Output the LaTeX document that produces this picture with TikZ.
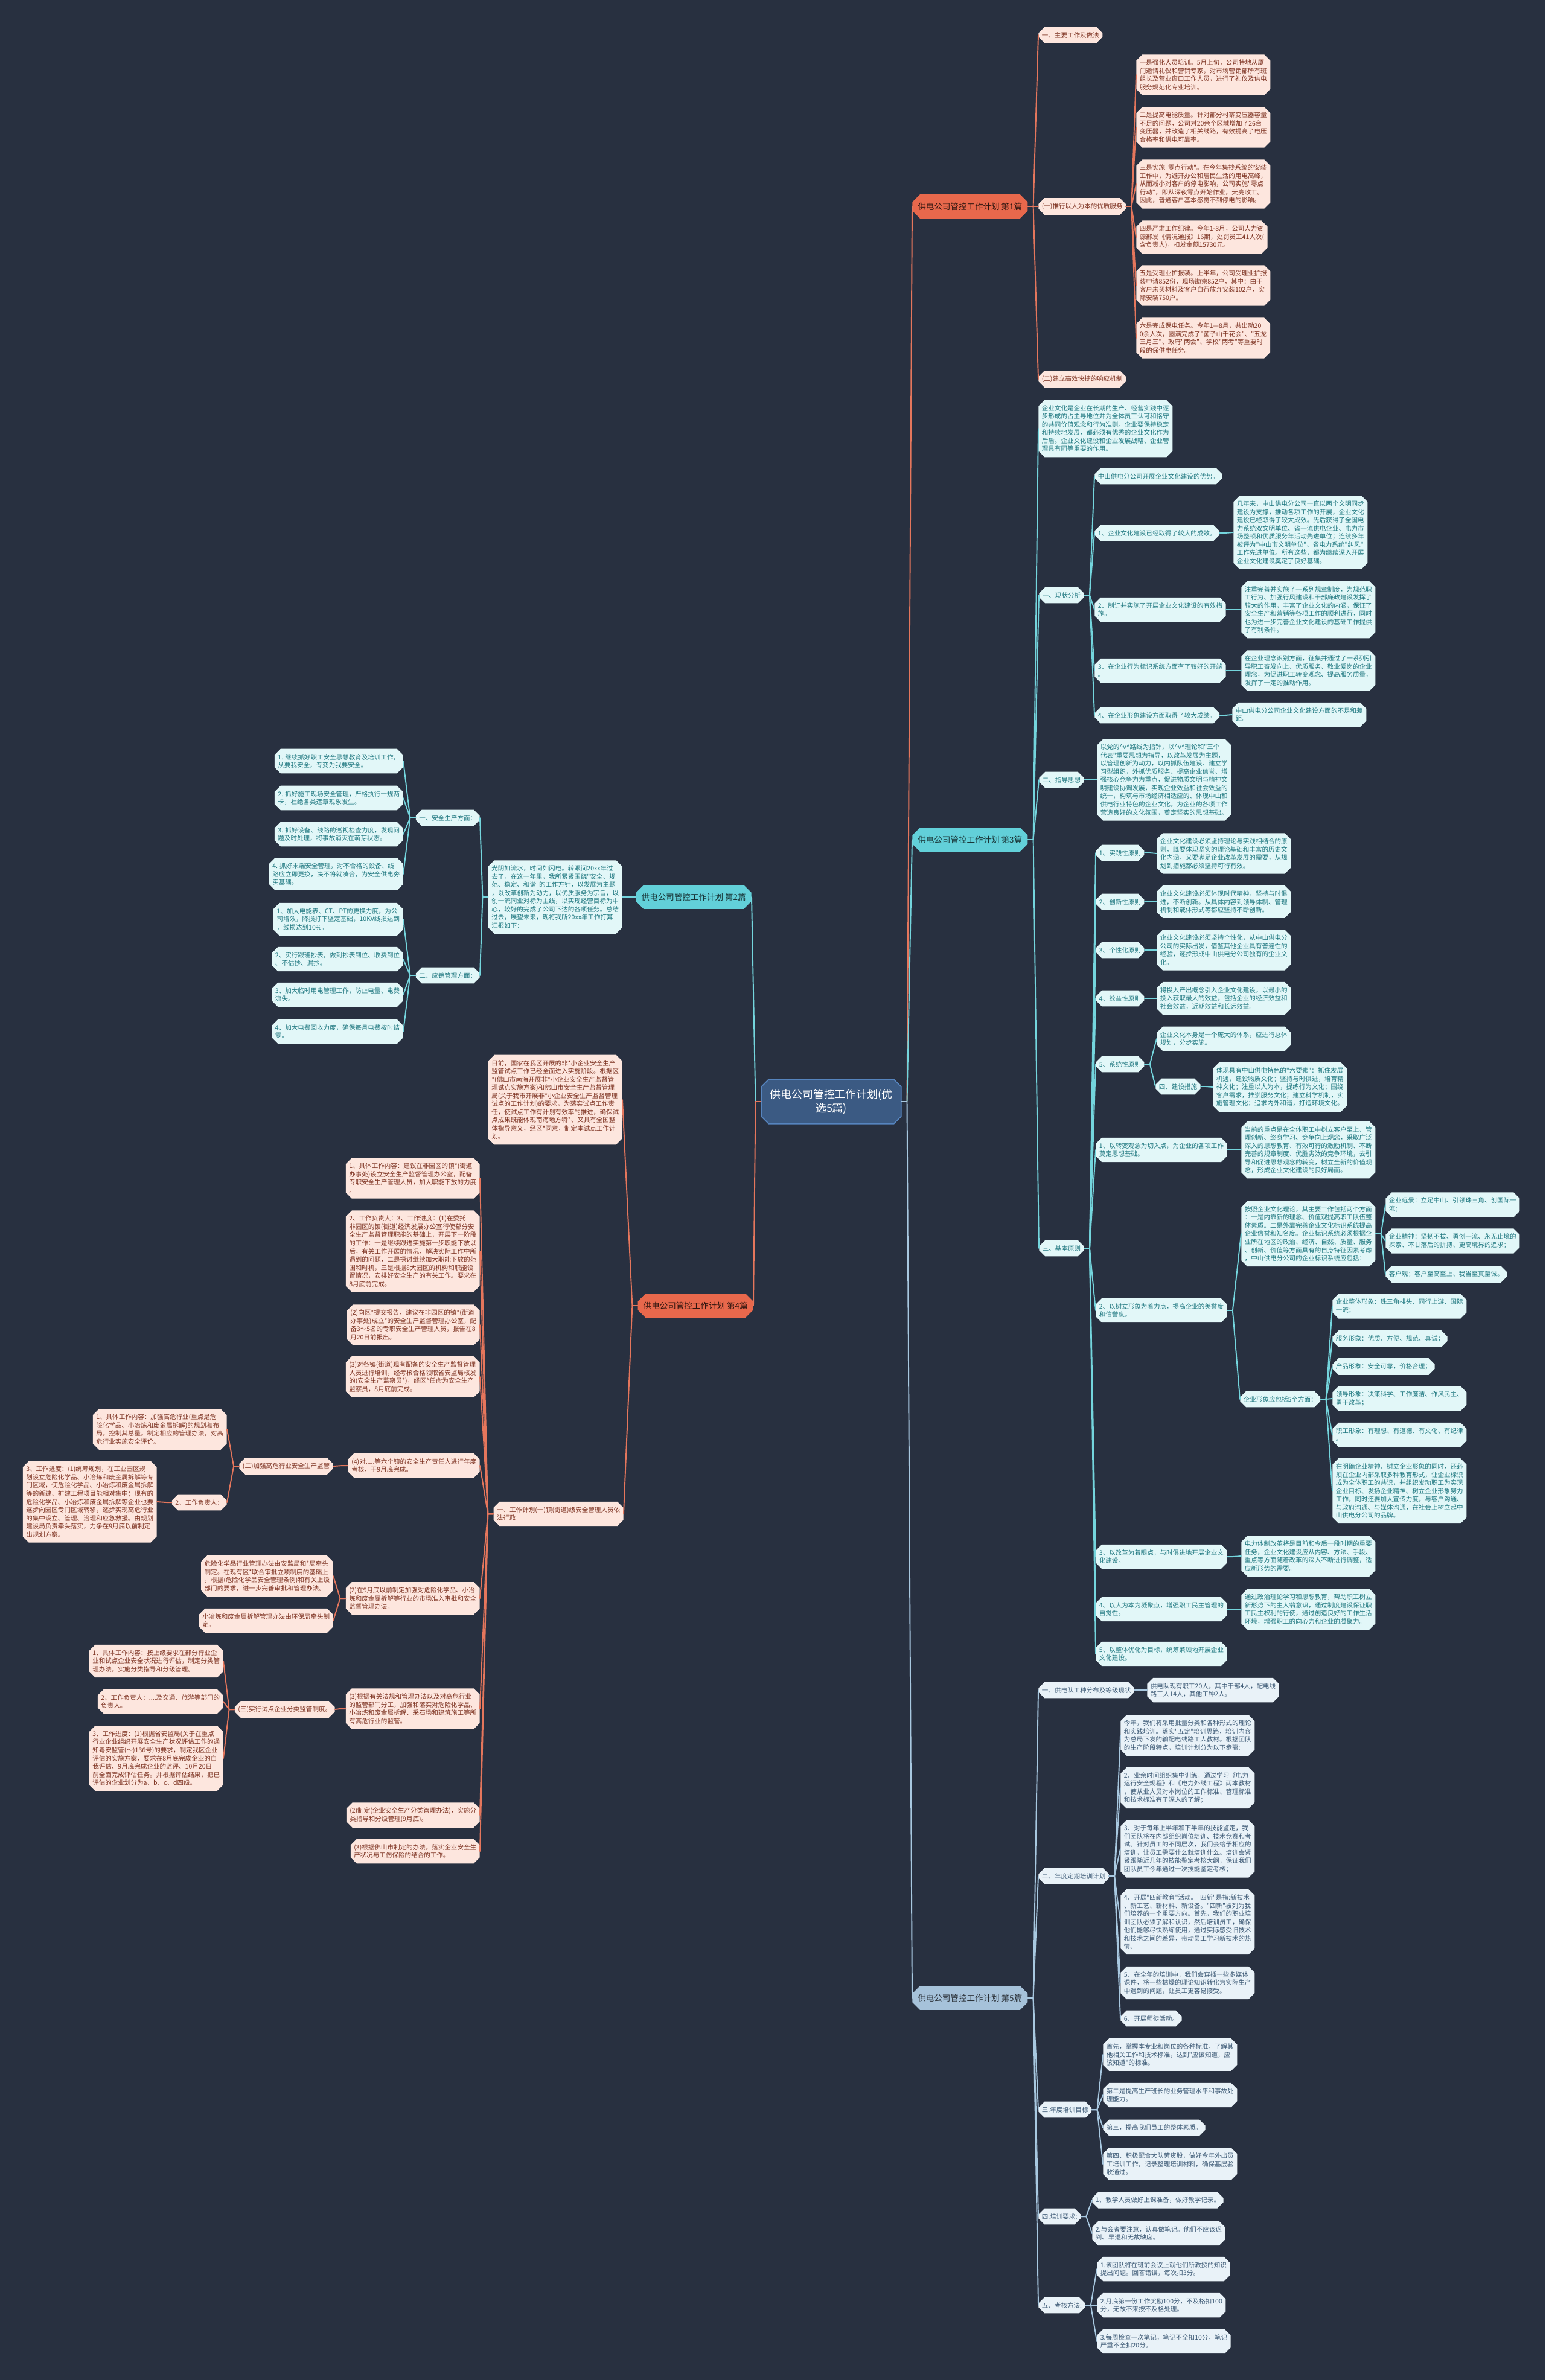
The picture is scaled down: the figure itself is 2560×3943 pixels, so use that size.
\documentclass[tikz,border=0pt]{standalone}
\usepackage{fontspec}
\newfontfamily\cjk{Noto Sans CJK SC}
\usepackage{tikz}
\usetikzlibrary{shapes.misc}
\definecolor{night}{HTML}{283040}
\definecolor{coral}{HTML}{E8684C}
\definecolor{coralpale}{HTML}{FDE6DE}
\definecolor{coraltext}{HTML}{7E3322}
\definecolor{coralline}{HTML}{E5765C}
\definecolor{aqua}{HTML}{62D0D9}
\definecolor{aquapale}{HTML}{E2F7F8}
\definecolor{aquatext}{HTML}{1F7880}
\definecolor{aqualine}{HTML}{74D5DD}
\definecolor{steel}{HTML}{A6C2DA}
\definecolor{steelpale}{HTML}{E9F2F8}
\definecolor{steeltext}{HTML}{3C5975}
\definecolor{steelline}{HTML}{A8C8E0}
\definecolor{hub}{HTML}{3B5A83}
\definecolor{hubrim}{HTML}{5684BE}
\tikzset{
  leaf/.style={chamfered rectangle, chamfered rectangle xsep=0.8mm, chamfered rectangle ysep=1.2mm,
               inner xsep=0.3mm, inner ysep=0.5mm, align=left, font=\cjk\fontsize{6}{7.7}\selectfont},
  cleaf/.style={leaf, fill=coralpale, text=coraltext},
  aleaf/.style={leaf, fill=aquapale, text=aquatext},
  sleaf/.style={leaf, fill=steelpale, text=steeltext},
  root/.style={chamfered rectangle, chamfered rectangle xsep=1mm, chamfered rectangle ysep=1.5mm,
               inner xsep=0.8mm, inner ysep=1.2mm, font=\cjk\fontsize{7.7}{9}\selectfont},
  croot/.style={root, fill=coral, text=black!80!coral},
  aroot/.style={root, fill=aqua, text=black!75!aqua},
  sroot/.style={root, fill=steel, text=black!75!steel},
  hubbox/.style={chamfered rectangle, chamfered rectangle sep=1.2mm, fill=hub, draw=hubrim, line width=1pt,
                 text=white, align=center, inner xsep=1.6mm, inner ysep=2mm, font=\cjk\fontsize{10.2}{13}\selectfont},
  lk/.style={line width=1.1pt, line cap=round, line join=round},
  cl/.style={lk, draw=coralline, to path={(\tikztostart) -- ++(9,0) -- (\tikztotarget)}},
  cll/.style={lk, draw=coralline, to path={(\tikztostart) -- ++(-9,0) -- (\tikztotarget)}},
  al/.style={lk, draw=aqualine, to path={(\tikztostart) -- ++(9,0) -- (\tikztotarget)}},
  all/.style={lk, draw=aqualine, to path={(\tikztostart) -- ++(-9,0) -- (\tikztotarget)}},
  sl/.style={lk, draw=steelline, to path={(\tikztostart) -- ++(9,0) -- (\tikztotarget)}}
}
\begin{document}
\begin{tikzpicture}[x=0.2mm, y=-0.2mm]
  \fill[night] (0,0) rectangle (2560,3943);
  \useasboundingbox (0,0) rectangle (2560,3943);

  \node[hubbox] (hub) at (1377,1825) {供电公司管控工作计划(优\\选5篇)};

  % 第1篇
  \node[croot, anchor=west] (p1) at (1511,342) {供电公司管控工作计划 第1篇};
  \node[cleaf, anchor=west] (p1main) at (1720,58) {一、主要工作及做法};
  \node[cleaf, anchor=west] (p1serve) at (1720,342) {(一)推行以人为本的优质服务};
  \node[cleaf, anchor=west] (p1resp) at (1720,628) {(二)建立高效快捷的响应机制};
  \node[cleaf, anchor=west] (p1s1) at (1882,124) {一是强化人员培训。5月上旬，公司特地从厦\\门邀请礼仪和营销专家，对市场营销部所有班\\组长及营业窗口工作人员，进行了礼仪及供电\\服务规范化专业培训。};
  \node[cleaf, anchor=west] (p1s2) at (1882,211) {二是提高电能质量。针对部分村寨变压器容量\\不足的问题，公司对20余个区域增加了26台\\变压器，并改造了相关线路，有效提高了电压\\合格率和供电可靠率。};
  \node[cleaf, anchor=west] (p1s3) at (1882,305) {三是实施"零点行动"。在今年集抄系统的安装\\工作中，为避开办公和居民生活的用电高峰，\\从而减小对客户的停电影响，公司实施"零点\\行动"，即从深夜零点开始作业，天亮收工。\\因此，普通客户基本感觉不到停电的影响。};
  \node[cleaf, anchor=west] (p1s4) at (1882,393) {四是严肃工作纪律。今年1-8月，公司人力资\\源部发《情况通报》16期，处罚员工41人次(\\含负责人)，扣发金额15730元。};
  \node[cleaf, anchor=west] (p1s5) at (1882,473) {五是受理业扩报装。上半年，公司受理业扩报\\装申请852份，现场勘察852户，其中：由于\\客户未买材料及客户自行放弃安装102户，实\\际安装750户。};
  \node[cleaf, anchor=west] (p1s6) at (1882,560) {六是完成保电任务。今年1—8月，共出动20\\0余人次，圆满完成了"菌子山千花会"、"五龙\\三月三"、政府"两会"、学校"两考"等重要时\\段的保供电任务。};

  % 第3篇
  \node[aroot, anchor=west] (p3) at (1511,1391) {供电公司管控工作计划 第3篇};
  \node[aleaf, anchor=west] (p3intro) at (1720,710) {企业文化是企业在长期的生产、经营实践中逐\\步形成的占主导地位并为全体员工认可和恪守\\的共同价值观念和行为准则。企业要保持稳定\\和持续地发展，都必须有优秀的企业文化作为\\后盾。企业文化建设和企业发展战略、企业管\\理具有同等重要的作用。};
  \node[aleaf, anchor=west] (now) at (1721,986) {一、现状分析};
  \node[aleaf, anchor=west] (now0) at (1813,789) {中山供电分公司开展企业文化建设的优势。};
  \node[aleaf, anchor=west] (now1) at (1813,883) {1、企业文化建设已经取得了较大的成效。};
  \node[aleaf, anchor=west] (now1t) at (2043,882) {几年来，中山供电分公司一直以两个文明同步\\建设为支撑，推动各项工作的开展，企业文化\\建设已经取得了较大成效。先后获得了全国电\\力系统双文明单位、省一流供电企业、电力市\\场整顿和优质服务年活动先进单位；连续多年\\被评为"中山市文明单位"、省电力系统"纠风"\\工作先进单位。所有这些，都为继续深入开展\\企业文化建设奠定了良好基础。};
  \node[aleaf, anchor=west] (now2) at (1813,1010) {2、制订并实施了开展企业文化建设的有效措\\施。};
  \node[aleaf, anchor=west] (now2t) at (2056,1010) {注重完善并实施了一系列规章制度，为规范职\\工行为、加强行风建设和干部廉政建设发挥了\\较大的作用，丰富了企业文化的内涵，保证了\\安全生产和营销等各项工作的顺利进行，同时\\也为进一步完善企业文化建设的基础工作提供\\了有利条件。};
  \node[aleaf, anchor=west] (now3) at (1813,1111) {3、在企业行为标识系统方面有了较好的开端\\。};
  \node[aleaf, anchor=west] (now3t) at (2056,1111) {在企业理念识别方面，征集并通过了一系列引\\导职工奋发向上、优质服务、敬业爱岗的企业\\理念，为促进职工转变观念、提高服务质量，\\发挥了一定的推动作用。};
  \node[aleaf, anchor=west] (now4) at (1813,1185) {4、在企业形象建设方面取得了较大成绩。};
  \node[aleaf, anchor=west] (now4t) at (2041,1184) {中山供电分公司企业文化建设方面的不足和差\\距。};
  \node[aleaf, anchor=west] (idea) at (1721,1292) {二、指导思想};
  \node[aleaf, anchor=west] (ideat) at (1817,1292) {以党的\textasciicircum v\textasciicircum 路线为指针，以\textasciicircum v\textasciicircum 理论和"三个\\代表"重要思想为指导，以改革发展为主题，\\以管理创新为动力，以内抓队伍建设、建立学\\习型组织，外抓优质服务、提高企业信誉、增\\强核心竞争力为重点，促进物质文明与精神文\\明建设协调发展，实现企业效益和社会效益的\\统一，构筑与市场经济相适应的、体现中山和\\供电行业特色的企业文化，为企业的各项工作\\营造良好的文化氛围，奠定坚实的思想基础。};
  \node[aleaf, anchor=west] (rule) at (1721,2068) {三、基本原则};
  \node[aleaf, anchor=west] (rule1) at (1815,1413) {1、实践性原则};
  \node[aleaf, anchor=west] (rule1t) at (1916,1414) {企业文化建设必须坚持理论与实践相结合的原\\则，既要体现坚实的理论基础和丰富的历史文\\化内涵，又要满足企业改革发展的需要，从规\\划到措施都必须坚持可行有效。};
  \node[aleaf, anchor=west] (rule2) at (1815,1494) {2、创新性原则};
  \node[aleaf, anchor=west] (rule2t) at (1916,1494) {企业文化建设必须体现时代精神，坚持与时俱\\进，不断创新。从具体内容到领导体制、管理\\机制和载体形式等都应坚持不断创新。};
  \node[aleaf, anchor=west] (rule3) at (1815,1574) {3、个性化原则};
  \node[aleaf, anchor=west] (rule3t) at (1916,1574) {企业文化建设必须坚持个性化，从中山供电分\\公司的实际出发，借鉴其他企业具有普遍性的\\经验，逐步形成中山供电分公司独有的企业文\\化。};
  \node[aleaf, anchor=west] (rule4) at (1815,1654) {4、效益性原则};
  \node[aleaf, anchor=west] (rule4t) at (1916,1654) {将投入产出概念引入企业文化建设，以最小的\\投入获取最大的效益，包括企业的经济效益和\\社会效益，近期效益和长远效益。};
  \node[aleaf, anchor=west] (rule5) at (1815,1763) {5、系统性原则};
  \node[aleaf, anchor=west] (rule5t) at (1916,1721) {企业文化本身是一个庞大的体系，应进行总体\\规划，分步实施。};
  \node[aleaf, anchor=west] (build) at (1914,1800) {四、建设措施};
  \node[aleaf, anchor=west] (buildt) at (2009,1801) {体现具有中山供电特色的"六要素"：抓住发展\\机遇，建设物质文化；坚持与时俱进，培育精\\神文化；注重以人为本，提练行为文化；围绕\\客户需求，推崇服务文化；建立科学机制，实\\施管理文化；追求内外和谐，打造环境文化。};
  \node[aleaf, anchor=west] (way1) at (1815,1905) {1、以转变观念为切入点，为企业的各项工作\\奠定思想基础。};
  \node[aleaf, anchor=west] (way1t) at (2056,1905) {当前的重点是在全体职工中树立客户至上、管\\理创新、终身学习、竞争向上观念，采取广泛\\深入的思想教育、有效可行的激励机制、不断\\完善的规章制度、优胜劣汰的竞争环境，去引\\导和促进思想观念的转变，树立全新的价值观\\念，形成企业文化建设的良好局面。};
  \node[aleaf, anchor=west] (way2) at (1815,2171) {2、以树立形象为着力点，提高企业的美誉度\\和信誉度。};
  \node[aleaf, anchor=west] (way2a) at (2056,2044) {按照企业文化理论，其主要工作包括两个方面\\：一是内靠新的理念、价值观提高职工队伍整\\体素质。二是外靠完善企业文化标识系统提高\\企业信誉和知名度。企业标识系统必须根据企\\业所在地区的政治、经济、自然、质量、服务\\、创新、价值等方面具有的自身特征因素考虑\\，中山供电分公司的企业标识系统应包括：};
  \node[aleaf, anchor=west] (way2a1) at (2295,1996) {企业远景：立足中山、引领珠三角、创国际一\\流；};
  \node[aleaf, anchor=west] (way2a2) at (2295,2056) {企业精神：坚韧不拔、勇创一流、永无止境的\\探索、不甘落后的拼搏、更高境界的追求；};
  \node[aleaf, anchor=west] (way2a3) at (2295,2111) {客户观；客户至高至上、我当至真至诚。};
  \node[aleaf, anchor=west] (way2b) at (2054,2318) {企业形象应包括5个方面：};
  \node[aleaf, anchor=west] (look1) at (2207,2164) {企业整体形象：珠三角排头、同行上游、国际\\一流；};
  \node[aleaf, anchor=west] (look2) at (2207,2218) {服务形象：优质、方便、规范、真诚；};
  \node[aleaf, anchor=west] (look3) at (2207,2264) {产品形象：安全可靠，价格合理；};
  \node[aleaf, anchor=west] (look4) at (2207,2317) {领导形象：决策科学、工作廉洁、作风民主、\\勇于改革；};
  \node[aleaf, anchor=west] (look5) at (2207,2377) {职工形象：有理想、有道德、有文化、有纪律\\。};
  \node[aleaf, anchor=west] (look6) at (2207,2470) {在明确企业精神、树立企业形象的同时，还必\\须在企业内部采取多种教育形式，让企业标识\\成为全体职工的共识，并组织发动职工为实现\\企业目标、发扬企业精神、树立企业形象努力\\工作，同时还要加大宣传力度，与客户沟通、\\与政府沟通、与媒体沟通，在社会上树立起中\\山供电分公司的品牌。};
  \node[aleaf, anchor=west] (way3) at (1815,2579) {3、以改革为着眼点，与时俱进地开展企业文\\化建设。};
  \node[aleaf, anchor=west] (way3t) at (2056,2578) {电力体制改革将是目前和今后一段时期的重要\\任务，企业文化建设应从内容、方法、手段、\\重点等方面随着改革的深入不断进行调整，适\\应新形势的需要。};
  \node[aleaf, anchor=west] (way4) at (1815,2666) {4、以人为本为凝聚点，增强职工民主管理的\\自觉性。};
  \node[aleaf, anchor=west] (way4t) at (2056,2666) {通过政治理论学习和思想教育，帮助职工树立\\新形势下的主人翁意识，通过制度建设保证职\\工民主权利的行使，通过创造良好的工作生活\\环境，增强职工的向心力和企业的凝聚力。};
  \node[aleaf, anchor=west] (way5) at (1815,2740) {5、以整体优化为目标，统筹兼顾地开展企业\\文化建设。};

  % 第5篇
  \node[sroot, anchor=west] (p5) at (1511,3310) {供电公司管控工作计划 第5篇};
  \node[sleaf, anchor=west] (team) at (1720,2800) {一、供电队工种分布及等级现状};
  \node[sleaf, anchor=west] (teamt) at (1900,2800) {供电队现有职工20人，其中干部4人，配电线\\路工人14人，其他工种2人。};
  \node[sleaf, anchor=west] (plan) at (1720,3108) {二、年度定期培训计划};
  \node[sleaf, anchor=west] (plan1) at (1856,2875) {今年，我们将采用批量分类和各种形式的理论\\和实践培训。落实"五定"培训思路，培训内容\\为总局下发的输配电线路工人教材。根据团队\\的生产阶段特点，培训计划分为以下步骤:};
  \node[sleaf, anchor=west] (plan2) at (1856,2962) {2、业余时间组织集中训练。通过学习《电力\\运行安全规程》和《电力外线工程》两本教材\\，使从业人员对本岗位的工作标准、管理标准\\和技术标准有了深入的了解；};
  \node[sleaf, anchor=west] (plan3) at (1856,3063) {3、对于每年上半年和下半年的技能鉴定，我\\们团队将在内部组织岗位培训、技术竞赛和考\\试。针对员工的不同层次，我们会给予相应的\\培训，让员工需要什么就培训什么。培训会紧\\紧跟随近几年的技能鉴定考核大纲，保证我们\\团队员工今年通过一次技能鉴定考核；};
  \node[sleaf, anchor=west] (plan4) at (1856,3184) {4、开展"四新教育"活动。"四新"是指:新技术\\、新工艺、新材料、新设备。"四新"被列为我\\们培养的一个重要方向。首先，我们的职业培\\训团队必须了解和认识，然后培训员工，确保\\他们能够尽快熟练使用，通过实际感受旧技术\\和技术之间的差异，带动员工学习新技术的热\\情。};
  \node[sleaf, anchor=west] (plan5) at (1856,3285) {5、在全年的培训中，我们会穿插一些多媒体\\课件，将一些枯燥的理论知识转化为实际生产\\中遇到的问题，让员工更容易接受。};
  \node[sleaf, anchor=west] (plan6) at (1856,3344) {6、开展师徒活动。};
  \node[sleaf, anchor=west] (goal) at (1720,3495) {三.年度培训目标};
  \node[sleaf, anchor=west] (goal1) at (1827,3404) {首先，掌握本专业和岗位的各种标准，了解其\\他相关工作和技术标准，达到"应该知道，应\\该知道"的标准。};
  \node[sleaf, anchor=west] (goal2) at (1827,3471) {第二是提高生产班长的业务管理水平和事故处\\理能力。};
  \node[sleaf, anchor=west] (goal3) at (1827,3525) {第三，提高我们员工的整体素质。};
  \node[sleaf, anchor=west] (goal4) at (1827,3585) {第四、积极配合大队劳资股，做好今年外出员\\工培训工作，记录整理培训材料，确保基层验\\收通过。};
  \node[sleaf, anchor=west] (need) at (1720,3672) {四.培训要求:};
  \node[sleaf, anchor=west] (need1) at (1809,3645) {1、教学人员做好上课准备，做好教学记录。};
  \node[sleaf, anchor=west] (need2) at (1809,3700) {2.与会者要注意，认真做笔记。他们不应该迟\\到、早退和无故缺席。};
  \node[sleaf, anchor=west] (exam) at (1720,3819) {五、考核方法:};
  \node[sleaf, anchor=west] (exam1) at (1817,3759) {1.该团队将在班前会议上就他们所教授的知识\\提出问题。回答错误，每次扣3分。};
  \node[sleaf, anchor=west] (exam2) at (1817,3819) {2.月底第一份工作奖励100分，不及格扣100\\分，无故不来按不及格处理。};
  \node[sleaf, anchor=west] (exam3) at (1817,3879) {3.每周检查一次笔记，笔记不全扣10分，笔记\\严重不全扣20分。};

  % 第2篇
  \node[aroot, anchor=east] (p2) at (1245,1486) {供电公司管控工作计划 第2篇};
  \node[aleaf, anchor=east] (p2intro) at (1031,1486) {光阴如流水，时间如闪电。转眼间20xx年过\\去了，在这一年里，我所紧紧围绕"安全、规\\范、稳定、和谐"的工作方针，以发展为主题\\，以改革创新为动力，以优质服务为宗旨，以\\创一流同业对标为主线，以实现经营目标为中\\心，较好的完成了公司下达的各项任务。总结\\过去，展望未来，现将我所20xx年工作打算\\汇报如下：};
  \node[aleaf, anchor=east] (safe) at (795,1355) {一、安全生产方面：};
  \node[aleaf, anchor=east] (safe1) at (668,1261) {1. 继续抓好职工安全思想教育及培训工作，\\从要我安全，专变为我要安全。};
  \node[aleaf, anchor=east] (safe2) at (668,1322) {2. 抓好施工现场安全管理，严格执行一规两\\卡，杜绝各类违章现象发生。};
  \node[aleaf, anchor=east] (safe3) at (668,1382) {3. 抓好设备、线路的巡视检查力度，发现问\\题及时处理，将事故消灭在萌芽状态。};
  \node[aleaf, anchor=east] (safe4) at (668,1448) {4. 抓好末端安全管理，对不合格的设备、线\\路应立即更换，决不将就凑合，为安全供电夯\\实基础。};
  \node[aleaf, anchor=east] (sell) at (795,1616) {二、应销管理方面：};
  \node[aleaf, anchor=east] (sell1) at (668,1523) {1、加大电能表、CT、PT的更换力度，为公\\司增效，降损打下坚定基础，10KV线损达到\\，线损达到10\%。};
  \node[aleaf, anchor=east] (sell2) at (668,1589) {2、实行跟班抄表，做到抄表到位、收费到位\\、不估抄、漏抄。};
  \node[aleaf, anchor=east] (sell3) at (668,1648) {3、加大临时用电管理工作，防止电量、电费\\流失。};
  \node[aleaf, anchor=east] (sell4) at (668,1709) {4、加大电费回收力度，确保每月电费按时结\\零。};

  % 第4篇
  \node[croot, anchor=east] (p4) at (1248,2163) {供电公司管控工作计划 第4篇};
  \node[cleaf, anchor=east] (p4intro) at (1031,1822) {目前，国家在我区开展的非*小企业安全生产\\监管试点工作已经全面进入实施阶段。根据区\\*(佛山市南海开展非*小企业安全生产监督管\\理试点实施方案)和佛山市安全生产监督管理\\局(关于我市开展非*小企业安全生产监督管理\\试点的工作计划)的要求，为落实试点工作责\\任，使试点工作有计划有效率的推进，确保试\\点成果既能体现南海地方特*、又具有全国整\\体指导意义，经区*同意，制定本试点工作计\\划。};
  \node[cleaf, anchor=east] (town) at (1033,2508) {一、工作计划(一)镇(街道)级安全管理人员依\\法行政};
  \node[cleaf, anchor=east] (town1) at (795,1952) {1、具体工作内容：建议在非园区的镇*(街道\\办事处)设立安全生产监督管理办公室，配备\\专职安全生产管理人员，加大职能下放的力度\\。};
  \node[cleaf, anchor=east] (town2) at (795,2073) {2、工作负责人：3、工作进度：(1)在委托\\非园区的镇(街道)经济发展办公室行使部分安\\全生产监督管理职能的基础上，开展下一阶段\\的工作：一是继续跟进实施第一步职能下放以\\后，有关工作开展的情况，解决实际工作中所\\遇到的问题，二是探讨继续加大职能下放的范\\围和时机，三是根据8大园区的机构和职能设\\置情况，安排好安全生产的有关工作。要求在\\8月底前完成。};
  \node[cleaf, anchor=east] (town3) at (795,2195) {(2)向区*提交报告，建议在非园区的镇*(街道\\办事处)成立*的安全生产监督管理办公室，配\\备3～5名的专职安全生产管理人员，报告在8\\月20日前报出。};
  \node[cleaf, anchor=east] (town4) at (795,2281) {(3)对各镇(街道)现有配备的安全生产监督管理\\人员进行培训，经考核合格领取省安监局核发\\的(安全生产监察员*)，经区*任命为安全生产\\监察员，8月底前完成。};
  \node[cleaf, anchor=east] (town5) at (795,2428) {(4)对.....等六个镇的安全生产责任人进行年度\\考核，于9月底完成。};
  \node[cleaf, anchor=east] (town6) at (795,2648) {(2)在9月底以前制定加强对危险化学品、小冶\\炼和废金属拆解等行业的市场准入审批和安全\\监督管理办法。};
  \node[cleaf, anchor=east] (town7) at (795,2831) {(3)根据有关法规和管理办法以及对高危行业\\的监管部门分工，加强和落实对危险化学品、\\小冶炼和废金属拆解、采石场和建筑施工等所\\有高危行业的监管。};
  \node[cleaf, anchor=east] (town8) at (795,3007) {(2)制定(企业安全生产分类管理办法)，实施分\\类指导和分级管理(9月底)。};
  \node[cleaf, anchor=east] (town9) at (795,3067) {(3)根据佛山市制定的办法，落实企业安全生\\产状况与工伤保险的结合的工作。};
  \node[cleaf, anchor=east] (risk) at (552,2429) {(二)加强高危行业安全生产监管};
  \node[cleaf, anchor=east] (risk1) at (376,2368) {1、具体工作内容：加强高危行业(重点是危\\险化学品、小冶炼和废金属拆解)的规划和布\\局，控制其总量。制定相应的管理办法，对高\\危行业实施安全评价。};
  \node[cleaf, anchor=east] (risk2) at (376,2489) {2、工作负责人：};
  \node[cleaf, anchor=east] (risk2t) at (260,2488) {3、工作进度：(1)统筹规划，在工业园区规\\划设立危险化学品、小冶炼和废金属拆解等专\\门区域，使危险化学品、小冶炼和废金属拆解\\等的新建、扩建工程项目能相对集中；现有的\\危险化学品、小冶炼和废金属拆解等企业也要\\逐步向园区专门区域转移，逐步实现高危行业\\的集中设立、管理、治理和应急救援。由规划\\建设局负责牵头落实，力争在9月底以前制定\\出规划方案。};
  \node[cleaf, anchor=east] (law1) at (552,2611) {危险化学品行业管理办法由安监局和*局牵头\\制定。在现有区*联合审批立项制度的基础上\\，根据(危险化学品安全管理条例)和有关上级\\部门的要求，进一步完善审批和管理办法。};
  \node[cleaf, anchor=east] (law2) at (552,2685) {小冶炼和废金属拆解管理办法由环保局牵头制\\定。};
  \node[cleaf, anchor=east] (grade) at (555,2832) {(三)实行试点企业分类监管制度。};
  \node[cleaf, anchor=east] (grade1) at (370,2752) {1、具体工作内容：按上级要求在部分行业企\\业和试点企业安全状况进行评估，制定分类管\\理办法，实施分类指导和分级管理。};
  \node[cleaf, anchor=east] (grade2) at (370,2819) {2、工作负责人：....及交通、旅游等部门的\\负责人。};
  \node[cleaf, anchor=east] (grade3) at (370,2913) {3、工作进度：(1)根据省安监局(关于在重点\\行业企业组织开展安全生产状况评估工作的通\\知粤安监管(～)136号)的要求，制定我区企业\\评估的实施方案，要求在8月底完成企业的自\\我评估、9月底完成企业的监评、10月20日\\前全面完成评估任务。并根据评估结果，把已\\评估的企业划分为a、b、c、d四级。};

  % connectors
  \foreach \a/\b in {hub/p1, p1/p1main, p1/p1serve, p1/p1resp, p1serve/p1s1, p1serve/p1s2, p1serve/p1s3,
                     p1serve/p1s4, p1serve/p1s5, p1serve/p1s6}
    \draw[cl] (\a.east) to (\b.west);
  \foreach \a/\b in {hub/p3, p3/p3intro, p3/now, p3/idea, p3/rule, now/now0, now/now1, now/now2, now/now3, now/now4,
                     now1/now1t, now2/now2t, now3/now3t, now4/now4t, idea/ideat,
                     rule/rule1, rule/rule2, rule/rule3, rule/rule4, rule/rule5, rule/way1, rule/way2, rule/way3, rule/way4, rule/way5,
                     rule1/rule1t, rule2/rule2t, rule3/rule3t, rule4/rule4t, rule5/rule5t, rule5/build, build/buildt,
                     way1/way1t, way2/way2a, way2/way2b, way2a/way2a1, way2a/way2a2, way2a/way2a3,
                     way2b/look1, way2b/look2, way2b/look3, way2b/look4, way2b/look5, way2b/look6, way3/way3t, way4/way4t}
    \draw[al] (\a.east) to (\b.west);
  \foreach \a/\b in {hub/p5, p5/team, p5/plan, p5/goal, p5/need, p5/exam, team/teamt,
                     plan/plan1, plan/plan2, plan/plan3, plan/plan4, plan/plan5, plan/plan6,
                     goal/goal1, goal/goal2, goal/goal3, goal/goal4, need/need1, need/need2,
                     exam/exam1, exam/exam2, exam/exam3}
    \draw[sl] (\a.east) to (\b.west);
  \foreach \a/\b in {hub/p2, p2/p2intro, p2intro/safe, p2intro/sell, safe/safe1, safe/safe2, safe/safe3, safe/safe4,
                     sell/sell1, sell/sell2, sell/sell3, sell/sell4}
    \draw[all] (\a.west) to (\b.east);
  \foreach \a/\b in {hub/p4, p4/p4intro, p4/town, town/town1, town/town2, town/town3, town/town4, town/town5,
                     town/town6, town/town7, town/town8, town/town9, town5/risk, risk/risk1, risk/risk2, risk2/risk2t,
                     town6/law1, town6/law2, town7/grade, grade/grade1, grade/grade2, grade/grade3}
    \draw[cll] (\a.west) to (\b.east);
\end{tikzpicture}
\end{document}
